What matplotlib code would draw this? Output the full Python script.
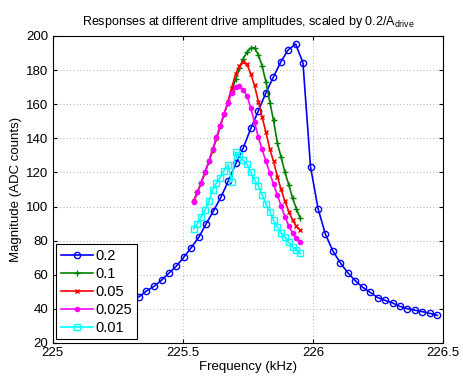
import matplotlib
matplotlib.use("Agg")
import matplotlib.pyplot as plt

plt.rcParams["font.family"] = ["Liberation Sans", "DejaVu Sans"]
plt.rcParams["mathtext.default"] = "regular"

# drive amplitude 0.2 (coarse sweep)
freq_02 = [225.303, 225.332, 225.360, 225.389, 225.418, 225.446, 225.475,
           225.503, 225.532, 225.561, 225.589, 225.618, 225.647, 225.675,
           225.704, 225.732, 225.761, 225.790, 225.818, 225.847, 225.876,
           225.904, 225.933, 225.961, 225.990, 226.019, 226.047, 226.076,
           226.105, 226.133, 226.162, 226.190, 226.219, 226.248, 226.276,
           226.305, 226.333, 226.362, 226.391, 226.419, 226.448, 226.477]
mag_02 = [45.2, 47.1, 50.5, 53.2, 56.8, 60.9, 65.1, 70.2, 75.9, 82.0,
          89.8, 97.6, 105.8, 115.2, 125.4, 134.5, 145.9, 156.2, 166.4, 175.8,
          184.8, 191.8, 195.3, 184.3, 123.4, 98.7, 83.9, 73.9, 66.9, 61.2,
          56.5, 52.7, 49.7, 46.6, 45.0, 43.5, 41.5, 40.1, 39.2, 38.4,
          37.4, 36.2]

# smaller amplitudes (fine sweep)
freq_fine = [225.541, 225.556, 225.570, 225.585, 225.600, 225.614, 225.629,
             225.643, 225.658, 225.673, 225.687, 225.702, 225.717, 225.731,
             225.746, 225.761, 225.775, 225.790, 225.804, 225.819, 225.834,
             225.848, 225.863, 225.877, 225.892, 225.907, 225.921, 225.936,
             225.951]
mag_01 = [103.5, 108.5, 114, 120, 126.5, 133, 140, 147, 154, 161,
          167.5, 174.5, 181, 186.5, 190.5, 193, 193, 189, 182.5, 173,
          161, 150.5, 137, 129, 120, 112.5, 105, 98.5, 93]
mag_005 = [103, 108.5, 114, 120, 126.5, 133, 140, 147, 154, 161.5,
           169.5, 177.5, 182.5, 184.8, 183.5, 177.5, 171, 161.5, 152.5, 143.5,
           133.5, 126.5, 117.5, 110, 103, 97, 92, 88.5, 86]
mag_0025 = [102.5, 108.3, 114, 120, 126.8, 133.5, 140.5, 147.5, 154.5, 161,
            166.5, 170, 170.8, 168.5, 165, 157.5, 149.5, 140.5, 133.5, 126.5,
            119.5, 113, 106.5, 100.5, 94, 88.5, 84.5, 81.5, 79.5]
mag_001 = [87, 90, 94, 98, 103, 109.5, 114, 117, 121, 124.5,
           114.5, 132, 130, 127, 125, 120, 115.6, 112, 107, 101.5,
           97, 92, 88, 84.3, 82, 79, 76.5, 74.5, 72.5]

fig = plt.figure(figsize=(4.63, 3.76), dpi=100)
ax = fig.add_axes([0.1138, 0.0878, 0.8437, 0.8165])

ax.plot(freq_02, mag_02, color="b", marker="o", ms=4.5, mfc="none",
        mew=1.0, lw=1.2, label="0.2")
ax.plot(freq_fine, mag_01, color=(0, 0.5, 0), marker="+", ms=4,
        mew=1.0, lw=1.2, label="0.1")
ax.plot(freq_fine, mag_005, color="r", marker="x", ms=3,
        mew=1.0, lw=1.2, label="0.05")
ax.plot(freq_fine, mag_0025, color="#ff00ff", marker=".", ms=6,
        lw=1.2, label="0.025")
ax.plot(freq_fine, mag_001, color="#00ffff", marker="s", ms=4, mfc="none",
        mew=1.0, lw=1.2, label="0.01")

ax.set_xlim(225, 226.5)
ax.set_ylim(20, 200)
ax.set_xticks([225, 225.5, 226, 226.5])
ax.set_xticklabels(["225", "225.5", "226", "226.5"])
ax.set_yticks(range(20, 201, 20))
ax.tick_params(direction="in", top=True, right=True, labelsize=9.5,
               length=3, width=0.8, pad=3)
ax.grid(True, linestyle=(0, (1, 3)), color="0.6", lw=0.6)
for s in ax.spines.values():
    s.set_linewidth(0.8)

ax.set_title("Responses at different drive amplitudes, scaled by 0.2/A$_{drive}$",
             fontsize=9, pad=8)
ax.set_xlabel("Frequency (kHz)", fontsize=9.5, labelpad=1)
ax.set_ylabel("Magnitude (ADC counts)", fontsize=9.5, labelpad=3)

leg = ax.legend(loc="lower left", fontsize=10.5, fancybox=False,
                edgecolor="k", framealpha=1, borderaxespad=0.25,
                handlelength=2.2, handletextpad=0.2, labelspacing=0.28,
                borderpad=0.3)
leg.get_frame().set_linewidth(0.8)

fig.savefig("out.png", dpi=100)
